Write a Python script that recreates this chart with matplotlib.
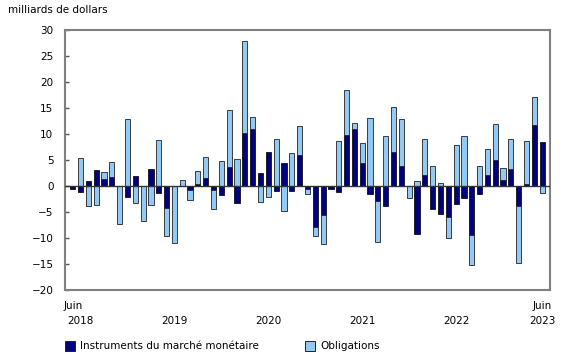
import numpy as np
import matplotlib
matplotlib.use("Agg")
import matplotlib.pyplot as plt
from matplotlib.patches import Rectangle
import matplotlib.transforms as mtransforms

# monthly net investment, June 2018 to June 2023 (billions of dollars)
money_market = [-0.5, -1.1, 0.9, 3.0, 1.4, 1.7, 0.0, -2.2, 1.9, 0.0, 3.3, -1.3,
                -4.3, 0.0, 0.0, -0.8, 0.45, 1.5, -0.8, -1.7, 3.65, -3.3, 10.2, 10.9,
                2.5, 6.6, -1.0, 4.5, -0.9, 5.9, -0.5, -7.8, -5.6, -0.6, -1.2, 9.8,
                11.0, 4.4, -1.5, -2.8, -3.8, 6.5, 3.8, 0.0, -9.2, 2.05, -4.4, -5.4,
                -6.0, -3.5, -2.4, -9.4, -1.5, 2.05, 5.0, 1.1, 3.3, -3.85, 0.45, 11.8,
                8.4]
bonds = [0.0, 5.3, -3.8, -3.6, 1.2, 3.0, -7.3, 12.8, -3.3, -6.7, -3.6, 8.8,
         -5.4, -10.9, 1.2, -1.8, 2.5, 4.0, -3.7, 4.8, 11.0, 5.1, 17.6, 2.4,
         -3.1, -2.2, 9.0, -4.9, 6.3, 5.6, -1.0, -1.9, -5.6, 0.0, 8.6, 8.6,
         1.1, 3.8, 13.0, -8.0, 9.6, 8.7, 9.0, -2.4, 0.9, 7.0, 3.85, 0.6,
         -4.0, 7.9, 9.7, -5.7, 3.85, 5.05, 6.9, 2.3, 5.7, -10.95, 8.25, 5.3,
         -1.3]
year_labels = ["2018", "2019", "2020", "2021", "2022", "2023"]
year_pos = [1, 13, 25, 37, 49, 60]

dark = "#000080"
light = "#92c9f5"

mm = np.array(money_market)
bd = np.array(bonds)
x = np.arange(len(mm))

# stack away from zero: money market first, bonds on top of same-sign part
bd_base = np.where(np.sign(bd) == np.sign(mm), mm, 0.0)

fig = plt.figure(figsize=(5.8, 3.6), dpi=100)
ax = fig.add_axes([64.5 / 580, 1 - 290 / 360, (550 - 64.5) / 580, 260 / 360])

w = 0.66
ax.bar(x, mm, width=w, color=dark, edgecolor="#111111", linewidth=0.6, zorder=3)
ax.bar(x, bd, width=w, bottom=bd_base, color=light, edgecolor="#222222",
       linewidth=0.6, zorder=3)
ax.axhline(0, color="#333333", linewidth=1.0, zorder=4)

ax.set_xlim(-1.05, 61.0)
ax.set_ylim(-20, 30)
ax.set_yticks(range(-20, 31, 5))
ax.tick_params(axis="y", direction="in", length=3, width=1, color="#555555",
               labelsize=7.5, pad=8)
ax.set_xticks([])
for s in ax.spines.values():
    s.set_color("#808080")
    s.set_linewidth(1.5)

trans = mtransforms.blended_transform_factory(ax.transData, fig.transFigure)
for p in (0, 60):
    ax.text(p, 1 - 306 / 360, "Juin", transform=trans, ha="center", va="center",
            fontsize=7.5)
for p, lab in zip(year_pos, year_labels):
    ax.text(p, 1 - 321 / 360, lab, transform=trans, ha="center", va="center",
            fontsize=7.5)

fig.text(8 / 580, 1 - 10 / 360, "milliards de dollars", ha="left", va="center",
         fontsize=7.5)

# legend
for x0, col, lab in [(65, dark, "Instruments du marché monétaire"),
                     (305, light, "Obligations")]:
    fig.patches.append(Rectangle((x0 / 580, 1 - 351 / 360), 10 / 580, 10 / 360,
                                 transform=fig.transFigure, facecolor=col,
                                 edgecolor="#222222", linewidth=0.7))
    fig.text((x0 + 15) / 580, 1 - 346 / 360, lab, ha="left", va="center",
             fontsize=7.5)

fig.savefig("out.png", dpi=100)
